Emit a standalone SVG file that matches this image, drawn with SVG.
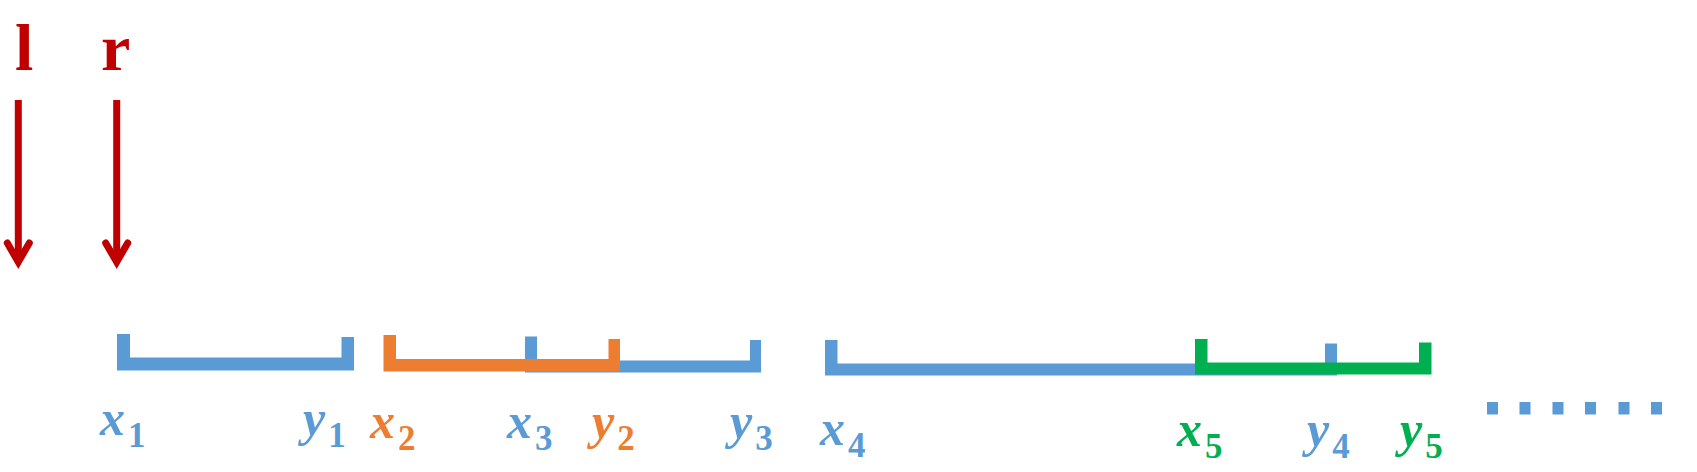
<svg xmlns="http://www.w3.org/2000/svg" width="1697" height="472" viewBox="0 0 1697 472">
<style>
.lbl{font-family:"Liberation Serif","DejaVu Serif",serif;font-style:italic;font-weight:bold;font-size:50px}
.sub{font-style:normal;font-size:35px}
.blue{fill:#5B9BD5}
.orange{fill:#ED7D31}
.green{fill:#00B050}
.ptr{font-family:"Liberation Serif","DejaVu Serif",serif;font-weight:bold;font-size:66px;fill:#C00000}
.arrow{stroke:#C00000;stroke-width:7;fill:none;marker-end:url(#head)}
</style>
<defs>
<marker id="head" markerUnits="userSpaceOnUse" markerWidth="60" markerHeight="60" refX="0" refY="0" orient="auto" overflow="visible">
<path d="M-19,-11 L0,0 L-19,11" fill="none" stroke="#C00000" stroke-width="7" stroke-linecap="round" stroke-linejoin="miter"/>
</marker>
</defs>
<rect width="1697" height="472" fill="#FFFFFF"/>
<g id="pointer-l"><text class="ptr" x="15" y="70">l</text></g>
<g id="pointer-r"><text class="ptr" x="101" y="70">r</text></g>
<g id="connectors">
<path class="arrow" d="M18.3,100 V262"/>
<path class="arrow" d="M116.7,100 V262"/>
</g>
<g id="interval-1">
<path class="blue" d="M117,334 H130 V357.5 H341.5 V337 H354 V370.5 H117 Z"/>
<text class="lbl blue" x="100" y="435">x<tspan class="sub" dx="3" dy="12">1</tspan></text>
<text class="lbl blue" x="303" y="435">y<tspan class="sub" dx="3" dy="12">1</tspan></text>
</g>
<g id="interval-3">
<path class="blue" d="M525,336.5 H537 V360.5 H750 V340 H761 V372.5 H525 Z"/>
<text class="lbl blue" x="507" y="438">x<tspan class="sub" dx="3" dy="12">3</tspan></text>
<text class="lbl blue" x="730" y="438">y<tspan class="sub" dx="3" dy="12">3</tspan></text>
</g>
<g id="interval-2">
<path class="orange" d="M383.5,335 H396 V359 H608.5 V339 H620 V371.5 H383.5 Z"/>
<text class="lbl orange" x="370" y="438">x<tspan class="sub" dx="3" dy="12">2</tspan></text>
<text class="lbl orange" x="592" y="438">y<tspan class="sub" dx="3" dy="12">2</tspan></text>
</g>
<g id="interval-4">
<path class="blue" d="M825,340 H837.5 V363.5 H1325 V343.5 H1337 V375.5 H825 Z"/>
<text class="lbl blue" x="820" y="445">x<tspan class="sub" dx="3" dy="12">4</tspan></text>
<text class="lbl blue" x="1307" y="446">y<tspan class="sub" dx="3" dy="12">4</tspan></text>
</g>
<g id="interval-5">
<path class="green" d="M1195,339 H1207.5 V362.5 H1419 V342.5 H1431.5 V374.5 H1195 Z"/>
<text class="lbl green" x="1177" y="446">x<tspan class="sub" dx="3" dy="12">5</tspan></text>
<text class="lbl green" x="1400" y="446">y<tspan class="sub" dx="3" dy="12">5</tspan></text>
</g>
<g id="ellipsis" class="blue">
<rect x="1487" y="402" width="11" height="12.5"/>
<rect x="1519.5" y="402" width="11" height="12.5"/>
<rect x="1552.5" y="402" width="11" height="12.5"/>
<rect x="1585" y="402" width="11" height="12.5"/>
<rect x="1618.5" y="402" width="11" height="12.5"/>
<rect x="1651" y="402" width="11" height="12.5"/>
</g>
</svg>
